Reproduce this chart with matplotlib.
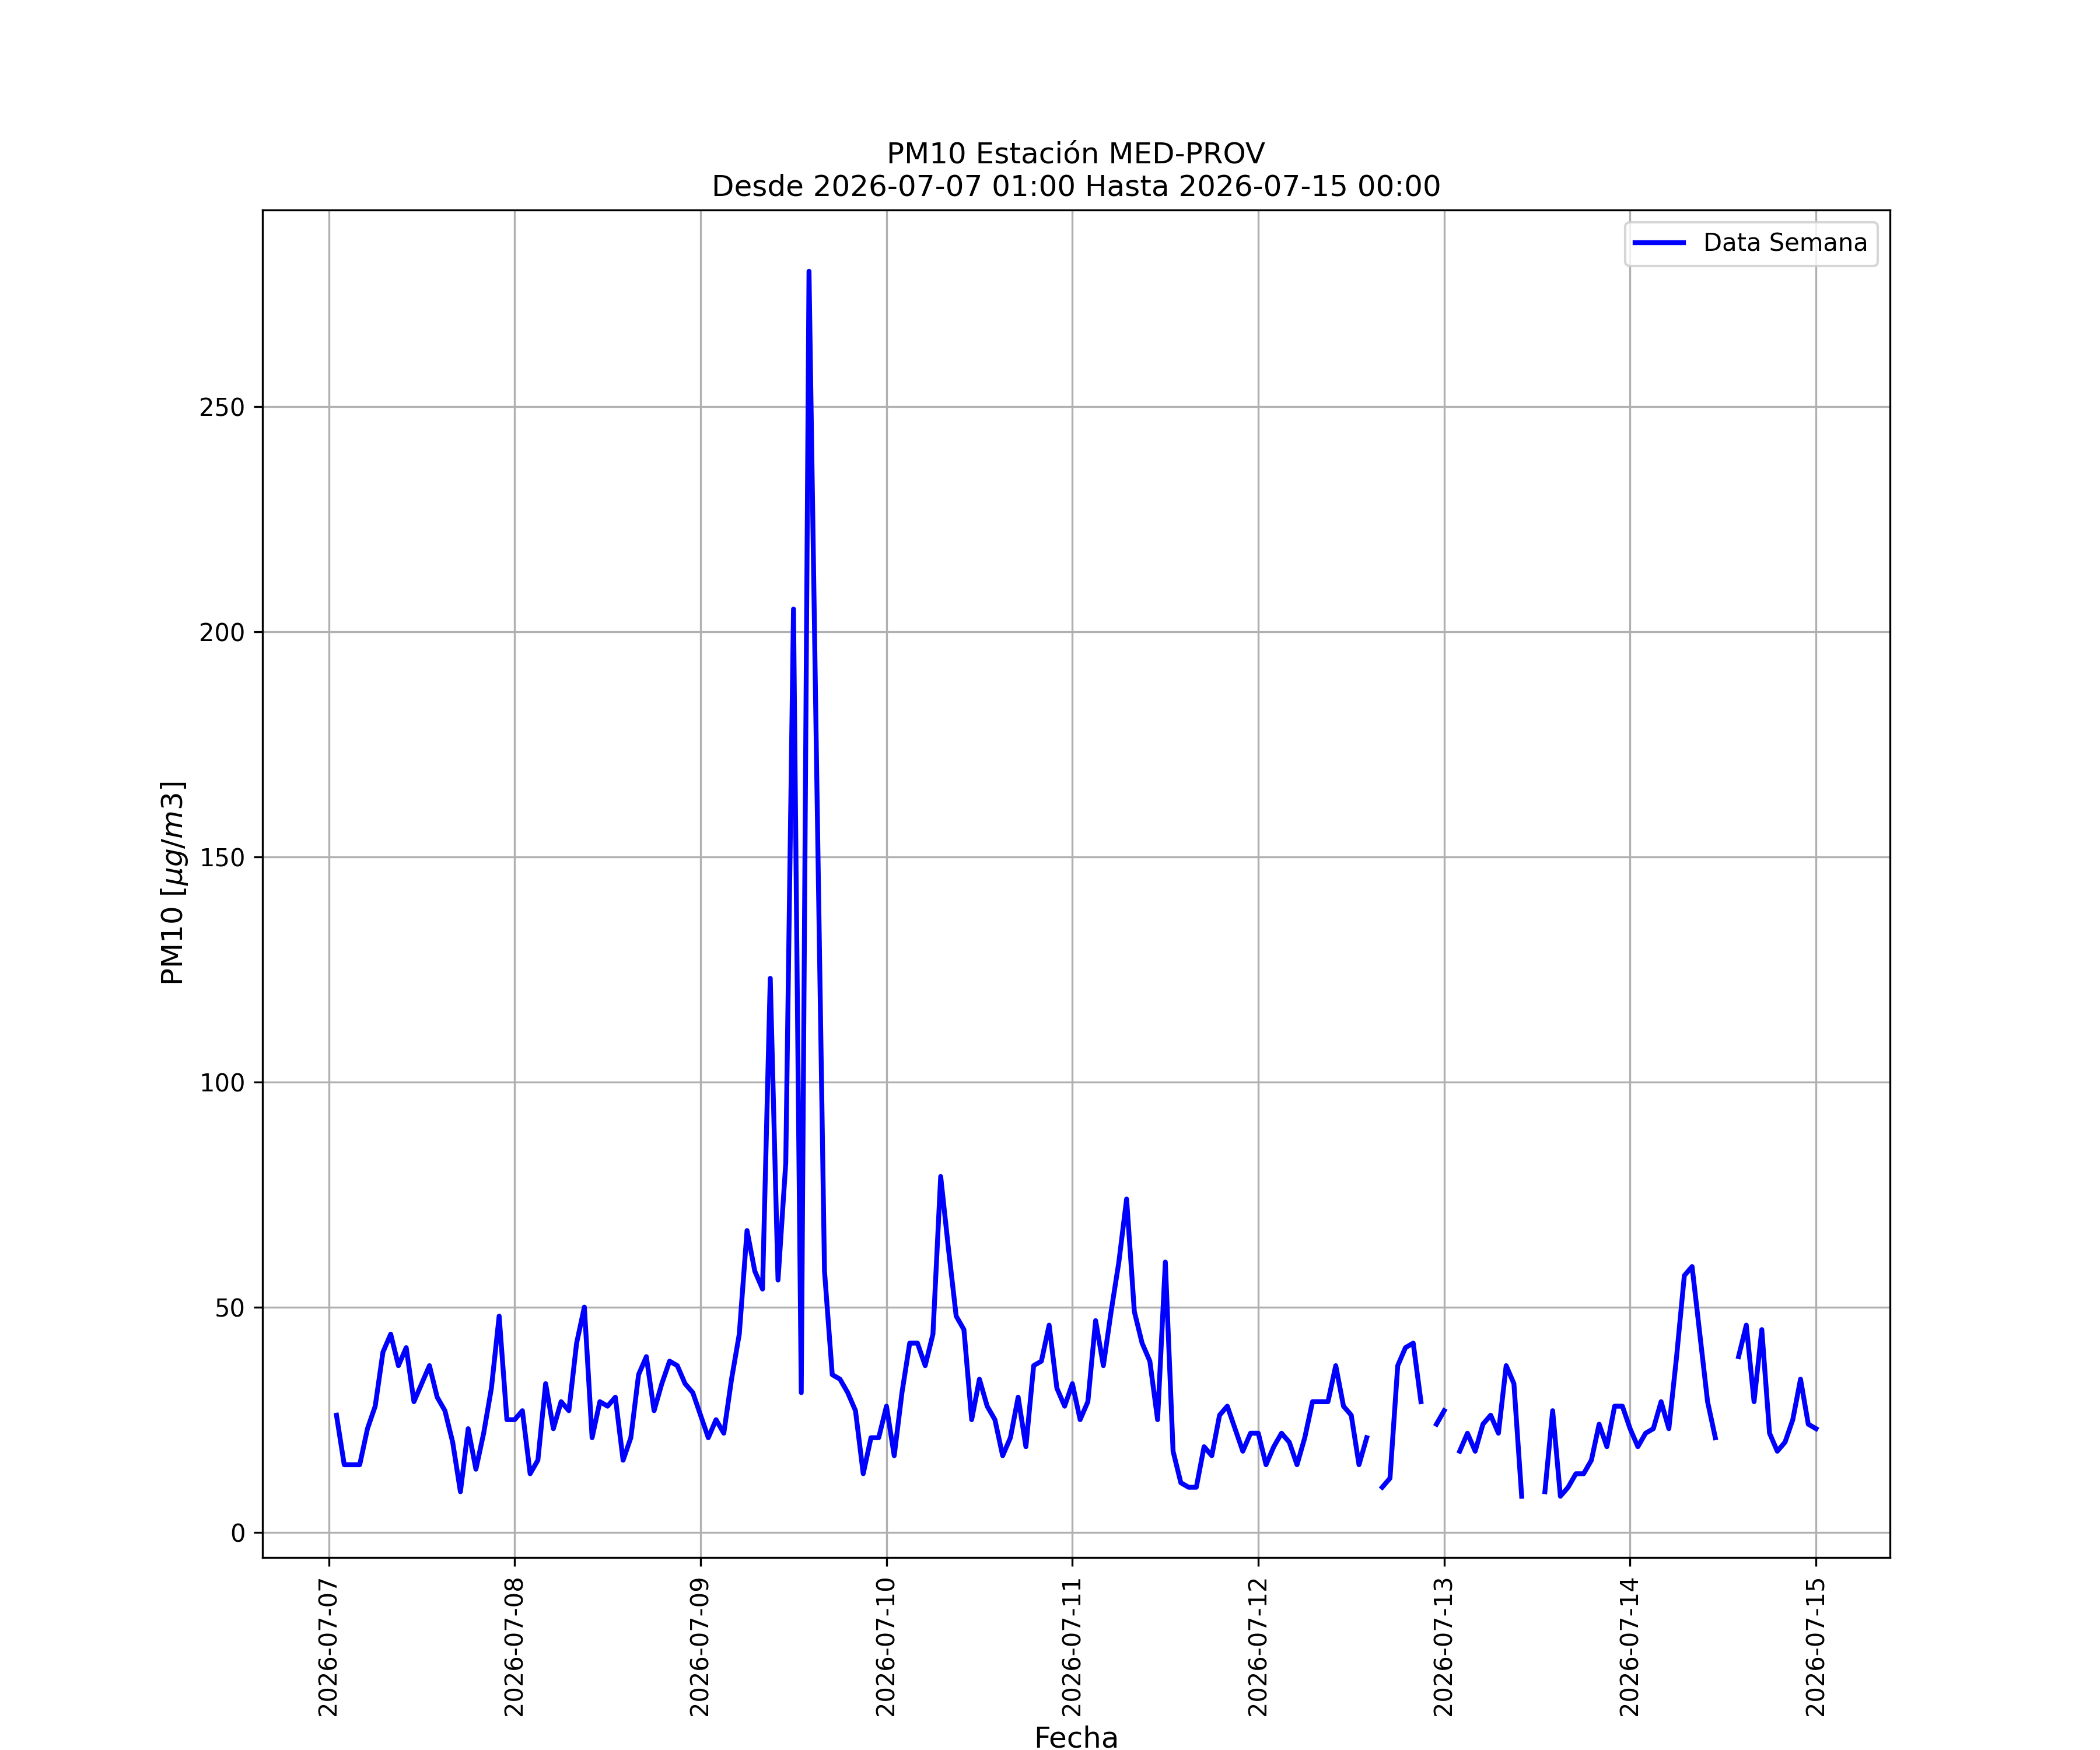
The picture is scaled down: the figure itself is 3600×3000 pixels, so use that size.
import numpy as np
import pandas as pd
import matplotlib
matplotlib.use("Agg")
import matplotlib.pyplot as plt
import matplotlib.dates as mdates

nan = np.nan

station = "MED-PROV"
start = "2026-07-07 01:00"
end = "2026-07-15 00:00"

day_0707 = [26, 15, 15, 15, 23, 28, 40, 44, 37, 41, 29, 33, 37, 30, 27, 20, 9, 23, 14, 22, 32, 48, 25]
day_0708 = [25, 27, 13, 16, 33, 23, 29, 27, 42, 50, 21, 29, 28, 30, 16, 21, 35, 39, 27, 33, 38, 37, 33, 31]
day_0709 = [26, 21, 25, 22, 34, 44, 67, 58, 54, 123, 56, 82, 205, 31, 280, 168, 58, 35, 34, 31, 27, 13, 21, 21]
day_0710 = [28, 17, 31, 42, 42, 37, 44, 79, 63, 48, 45, 25, 34, 28, 25, 17, 21, 30, 19, 37, 38, 46, 32, 28]
day_0711 = [33, 25, 29, 47, 37, 49, 60, 74, 49, 42, 38, 25, 60, 18, 11, 10, 10, 19, 17, 26, 28, 23, 18, 22]
day_0712 = [22, 15, 19, 22, 20, 15, 21, 29, 29, 29, 37, 28, 26, 15, 21, nan, 10, 12, 37, 41, 42, 29, nan, 24]
day_0713 = [27, nan, 18, 22, 18, 24, 26, 22, 37, 33, 8, nan, nan, 9, 27, 8, 10, 13, 13, 16, 24, 19, 28, 28]
day_0714 = [23, 19, 22, 23, 29, 23, 39, 57, 59, 44, 29, 21, nan, nan, 39, 46, 29, 45, 22, 18, 20, 25, 34, 24]
day_0715 = [23]

values = day_0707 + day_0708 + day_0709 + day_0710 + day_0711 + day_0712 + day_0713 + day_0714 + day_0715
times = pd.date_range(start, end, freq="h")

fig, ax = plt.subplots(figsize=(12, 10), dpi=300)
ax.plot(times, values, color="blue", linewidth=2, label="Data Semana")
ax.set_title(f"PM10 Estación {station}\nDesde {start} Hasta {end}", fontsize=12)
ax.set_xlabel("Fecha", fontsize=12)
ax.set_ylabel(r"PM10 [$\mu g/m3$]", fontsize=12)
ax.xaxis.set_major_locator(mdates.DayLocator())
ax.xaxis.set_major_formatter(mdates.DateFormatter("%Y-%m-%d"))
plt.setp(ax.get_xticklabels(), rotation=90)
ax.grid(True)
ax.legend(loc="upper right")
fig.savefig("out.png", dpi=300)
